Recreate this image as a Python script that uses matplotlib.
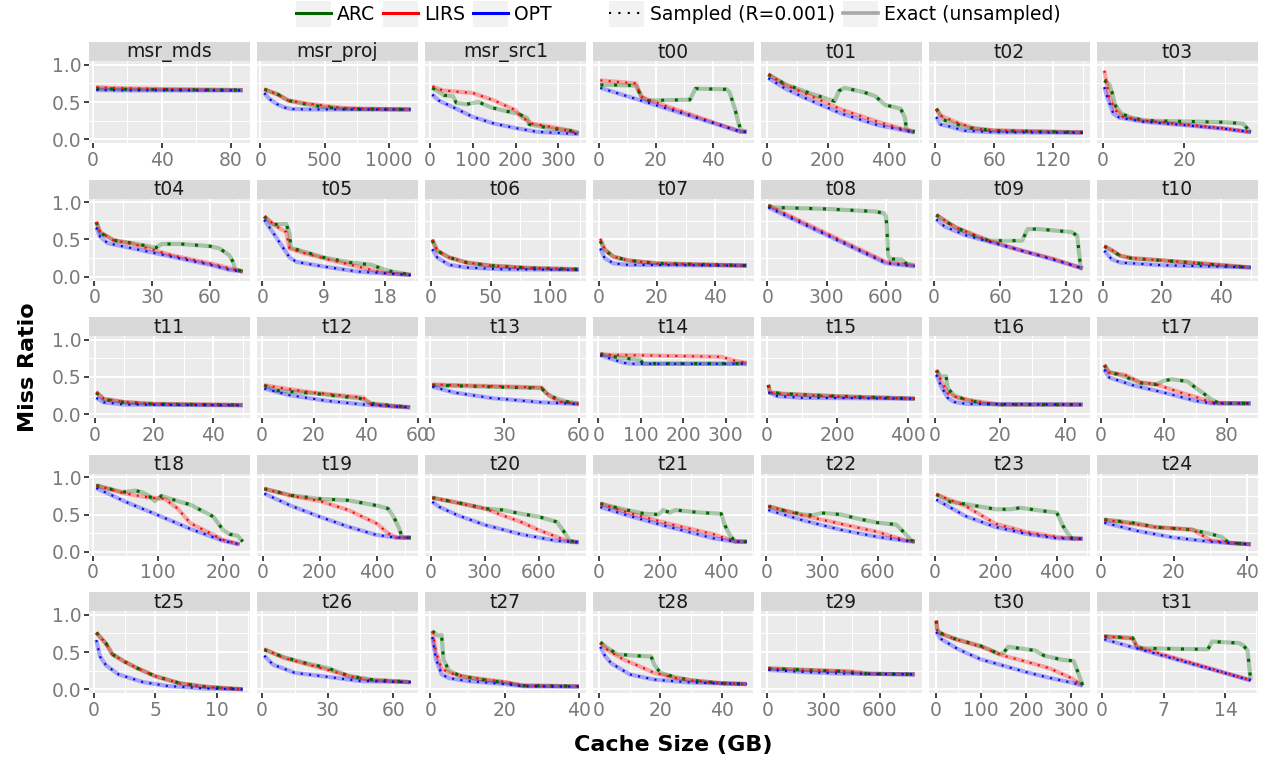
import matplotlib
matplotlib.use("Agg")
import matplotlib.pyplot as plt
from matplotlib.lines import Line2D
from matplotlib.patches import Rectangle
from matplotlib.legend_handler import HandlerLine2D

# ── Data ─────────────────────────────────────────────────────────────────────

PANELS = ["msr_mds", "msr_proj", "msr_src1", "t00", "t01", "t02", "t03",
          "t04", "t05", "t06", "t07", "t08", "t09", "t10",
          "t11", "t12", "t13", "t14", "t15", "t16", "t17",
          "t18", "t19", "t20", "t21", "t22", "t23", "t24",
          "t25", "t26", "t27", "t28", "t29", "t30", "t31"]

XTICKS = {
    "msr_mds": [0, 40, 80], "msr_proj": [0, 500, 1000], "msr_src1": [0, 100, 200, 300],
    "t00": [0, 20, 40], "t01": [0, 200, 400], "t02": [0, 60, 120], "t03": [0, 20],
    "t04": [0, 30, 60], "t05": [0, 9, 18], "t06": [0, 50, 100], "t07": [0, 20, 40],
    "t08": [0, 300, 600], "t09": [0, 60, 120], "t10": [0, 20, 40],
    "t11": [0, 20, 40], "t12": [0, 20, 40, 60], "t13": [0, 30, 60], "t14": [0, 100, 200, 300],
    "t15": [0, 200, 400], "t16": [0, 20, 40], "t17": [0, 40, 80],
    "t18": [0, 100, 200], "t19": [0, 200, 400], "t20": [0, 300, 600], "t21": [0, 200, 400],
    "t22": [0, 300, 600], "t23": [0, 200, 400], "t24": [0, 20, 40],
    "t25": [0, 5, 10], "t26": [0, 30, 60], "t27": [0, 20, 40], "t28": [0, 20, 40],
    "t29": [0, 300, 600], "t30": [0, 100, 200, 300], "t31": [0, 7, 14],
}

ARC = {
    "msr_mds": ([2, 20, 50, 87], [0.68, 0.67, 0.665, 0.66]),
    "msr_proj": ([30, 137, 217, 324, 500, 646, 800, 1170], [0.67, 0.60, 0.52, 0.48, 0.43, 0.41, 0.405, 0.40]),
    "msr_src1": ([5, 33, 53, 61, 85, 113, 144, 176, 208, 228, 232, 260, 291, 323, 348],
                 [0.69, 0.59, 0.58, 0.49, 0.47, 0.50, 0.425, 0.38, 0.34, 0.28, 0.20, 0.17, 0.137, 0.124, 0.09]),
    "t00": ([0.5, 3, 13, 15, 17, 32, 34, 45, 46, 48, 49, 50, 52],
            [0.73, 0.73, 0.72, 0.57, 0.52, 0.53, 0.68, 0.67, 0.63, 0.39, 0.235, 0.12, 0.10]),
    "t01": ([5, 60, 133, 222, 237, 255, 319, 355, 389, 439, 453, 458, 485],
            [0.87, 0.74, 0.63, 0.51, 0.65, 0.69, 0.63, 0.58, 0.46, 0.41, 0.29, 0.13, 0.10]),
    "t02": ([1, 8, 20, 33, 49, 60, 150], [0.41, 0.26, 0.21, 0.155, 0.13, 0.115, 0.093]),
    "t03": ([0.3, 1.5, 2.2, 3, 4.5, 7, 10, 14, 20, 30, 34.5, 36.4],
            [0.79, 0.74, 0.63, 0.455, 0.345, 0.29, 0.255, 0.245, 0.24, 0.228, 0.21, 0.093]),
    "t04": ([1, 3, 10, 20, 32, 35, 45, 60, 65, 70, 72, 73, 77],
            [0.735, 0.59, 0.49, 0.45, 0.39, 0.44, 0.44, 0.41, 0.38, 0.29, 0.20, 0.106, 0.07]),
    "t05": ([0.3, 1.5, 3.5, 4, 4.2, 6, 9, 13, 16, 18.5, 21.8],
            [0.81, 0.70, 0.71, 0.58, 0.39, 0.34, 0.26, 0.19, 0.16, 0.08, 0.027]),
    "t06": ([1, 5, 15, 30, 50, 80, 124], [0.49, 0.35, 0.26, 0.19, 0.15, 0.12, 0.10]),
    "t07": ([0.5, 2, 5, 10, 20, 51], [0.48, 0.36, 0.27, 0.22, 0.18, 0.15]),
    "t08": ([5, 30, 300, 550, 590, 600, 605, 610, 620, 680, 700, 745],
            [0.955, 0.93, 0.91, 0.875, 0.85, 0.81, 0.64, 0.29, 0.24, 0.23, 0.18, 0.155]),
    "t09": ([2, 10, 20, 40, 50, 80, 85, 95, 125, 130, 132, 133, 135],
            [0.83, 0.745, 0.66, 0.53, 0.485, 0.485, 0.64, 0.64, 0.60, 0.55, 0.285, 0.125, 0.11]),
    "t10": ([0.5, 3, 6, 10, 20, 40, 50], [0.41, 0.35, 0.28, 0.245, 0.22, 0.155, 0.125]),
    "t11": ([0.5, 3, 10, 20, 50], [0.29, 0.20, 0.16, 0.137, 0.124]),
    "t12": ([1, 5, 20, 38, 42, 57], [0.39, 0.32, 0.28, 0.21, 0.146, 0.093]),
    "t13": ([1, 45, 47, 50, 55, 60], [0.39, 0.35, 0.28, 0.225, 0.17, 0.146]),
    "t14": ([5, 40, 100, 105, 349], [0.81, 0.77, 0.725, 0.68, 0.68]),
    "t15": ([5, 10, 50, 200, 420], [0.395, 0.295, 0.275, 0.243, 0.21]),
    "t16": ([0.5, 2, 3.5, 4, 6, 10, 15, 20, 45.5],
            [0.59, 0.505, 0.51, 0.35, 0.25, 0.19, 0.146, 0.13, 0.13]),
    "t17": ([2, 5, 15, 25, 35, 40, 45, 55, 60, 65, 70, 75, 95],
            [0.66, 0.57, 0.505, 0.42, 0.40, 0.45, 0.47, 0.44, 0.355, 0.28, 0.20, 0.146, 0.146]),
    "t18": ([5, 25, 45, 65, 75, 85, 95, 105, 130, 150, 185, 200, 210, 222, 230],
            [0.89, 0.845, 0.80, 0.82, 0.80, 0.757, 0.68, 0.75, 0.68, 0.63, 0.47, 0.29, 0.235, 0.217, 0.137]),
    "t19": ([5, 100, 200, 300, 400, 440, 460, 480, 490, 520],
            [0.845, 0.757, 0.71, 0.69, 0.62, 0.58, 0.47, 0.31, 0.19, 0.19]),
    "t20": ([10, 150, 300, 400, 500, 600, 700, 740, 770, 820],
            [0.725, 0.66, 0.58, 0.56, 0.51, 0.47, 0.40, 0.265, 0.146, 0.128]),
    "t21": ([5, 50, 92, 150, 195, 210, 232, 250, 330, 400, 410, 430, 445, 483],
            [0.646, 0.60, 0.56, 0.51, 0.50, 0.56, 0.525, 0.56, 0.525, 0.51, 0.37, 0.21, 0.14, 0.135]),
    "t22": ([10, 100, 200, 250, 300, 400, 500, 600, 700, 750, 780, 800],
            [0.61, 0.55, 0.50, 0.49, 0.52, 0.50, 0.44, 0.39, 0.365, 0.24, 0.155, 0.135]),
    "t23": ([5, 50, 100, 150, 200, 250, 280, 350, 400, 420, 435, 450, 485],
            [0.77, 0.67, 0.64, 0.605, 0.57, 0.57, 0.59, 0.55, 0.525, 0.35, 0.25, 0.18, 0.175]),
    "t24": ([1, 5, 10, 15, 25, 30, 33, 35, 41], [0.43, 0.41, 0.38, 0.33, 0.295, 0.24, 0.20, 0.12, 0.10]),
    "t25": ([0.2, 1, 1.5, 2.5, 3.5, 5, 7, 9, 12.1], [0.76, 0.61, 0.47, 0.37, 0.285, 0.175, 0.08, 0.035, 0.0]),
    "t26": ([1, 10, 20, 30, 40, 50, 68], [0.53, 0.43, 0.35, 0.285, 0.175, 0.13, 0.096]),
    "t27": ([0.5, 2, 3, 3.5, 5, 8, 15, 20, 25, 40], [0.78, 0.72, 0.73, 0.40, 0.25, 0.18, 0.12, 0.09, 0.05, 0.04]),
    "t28": ([0.5, 3, 6, 12, 17, 18, 20, 25, 30, 40, 48],
            [0.63, 0.55, 0.47, 0.45, 0.44, 0.33, 0.22, 0.16, 0.12, 0.08, 0.07]),
    "t29": ([5, 200, 400, 500, 785], [0.28, 0.26, 0.24, 0.21, 0.20]),
    "t30": ([1, 3, 10, 40, 70, 100, 120, 140, 150, 160, 220, 240, 280, 305, 315, 325],
            [0.92, 0.80, 0.755, 0.68, 0.63, 0.58, 0.53, 0.47, 0.49, 0.57, 0.52, 0.45, 0.395, 0.38, 0.22, 0.05]),
    "t31": ([0.3, 3.5, 4, 4.5, 12, 12.5, 15.5, 16, 16.5, 16.85],
            [0.71, 0.69, 0.57, 0.55, 0.535, 0.64, 0.62, 0.59, 0.52, 0.12]),
}

LIRS = {
    "msr_mds": ([2, 10, 40, 87], [0.70, 0.69, 0.675, 0.66]),
    "msr_proj": ([30, 137, 217, 324, 500, 646, 800, 1170], [0.67, 0.60, 0.52, 0.49, 0.45, 0.42, 0.41, 0.40]),
    "msr_src1": ([5, 30, 100, 110, 150, 200, 215, 240, 300, 348],
                 [0.71, 0.655, 0.62, 0.60, 0.52, 0.39, 0.29, 0.21, 0.15, 0.08]),
    "t00": ([0.5, 13, 15, 18, 50, 52], [0.79, 0.75, 0.57, 0.52, 0.10, 0.10]),
    "t01": ([5, 60, 133, 222, 244, 364, 453, 485], [0.87, 0.73, 0.60, 0.44, 0.40, 0.235, 0.13, 0.10]),
    "t02": ([1, 5, 20, 40, 60, 150], [0.41, 0.32, 0.235, 0.146, 0.12, 0.093]),
    "t03": ([0.3, 1.5, 3, 5, 10, 20, 30, 36.4], [0.92, 0.57, 0.39, 0.30, 0.25, 0.20, 0.146, 0.093]),
    "t04": ([1, 3, 10, 20, 40, 60, 70, 77], [0.735, 0.60, 0.49, 0.44, 0.29, 0.18, 0.115, 0.07]),
    "t05": ([0.3, 2, 3.5, 4, 6, 10, 14, 18, 21.8], [0.81, 0.68, 0.60, 0.38, 0.32, 0.225, 0.137, 0.05, 0.027]),
    "t06": ([1, 5, 15, 30, 50, 80, 124], [0.50, 0.35, 0.26, 0.19, 0.15, 0.12, 0.10]),
    "t07": ([0.5, 2, 5, 10, 20, 51], [0.51, 0.37, 0.27, 0.22, 0.18, 0.15]),
    "t08": ([5, 600, 745], [0.955, 0.20, 0.146]),
    "t09": ([2, 20, 50, 80, 110, 130, 135], [0.83, 0.66, 0.485, 0.35, 0.235, 0.135, 0.11]),
    "t10": ([0.5, 3, 6, 10, 20, 40, 50], [0.41, 0.36, 0.28, 0.25, 0.22, 0.16, 0.125]),
    "t11": ([0.5, 3, 10, 20, 50], [0.30, 0.21, 0.165, 0.14, 0.124]),
    "t12": ([1, 10, 20, 39, 42, 50, 57], [0.39, 0.34, 0.29, 0.225, 0.137, 0.106, 0.093]),
    "t13": ([1, 45, 48, 52, 60], [0.40, 0.36, 0.25, 0.17, 0.137]),
    "t14": ([5, 250, 290, 320, 349], [0.80, 0.775, 0.77, 0.72, 0.69]),
    "t15": ([5, 10, 50, 200, 420], [0.39, 0.29, 0.27, 0.24, 0.21]),
    "t16": ([0.5, 2, 4, 7, 12, 20, 45.5], [0.59, 0.45, 0.285, 0.22, 0.18, 0.13, 0.13]),
    "t17": ([2, 5, 15, 25, 35, 50, 65, 70, 95], [0.66, 0.56, 0.53, 0.43, 0.40, 0.295, 0.20, 0.155, 0.146]),
    "t18": ([5, 50, 80, 110, 130, 150, 180, 200, 225], [0.89, 0.78, 0.735, 0.71, 0.58, 0.38, 0.25, 0.16, 0.10]),
    "t19": ([5, 100, 200, 300, 400, 440, 470, 520], [0.845, 0.75, 0.68, 0.56, 0.38, 0.25, 0.19, 0.19]),
    "t20": ([10, 300, 420, 500, 600, 720, 780, 820], [0.725, 0.58, 0.47, 0.40, 0.29, 0.18, 0.128, 0.128]),
    "t21": ([5, 100, 232, 375, 445, 483], [0.646, 0.52, 0.373, 0.234, 0.14, 0.135]),
    "t22": ([10, 200, 400, 600, 750, 800], [0.61, 0.485, 0.375, 0.265, 0.155, 0.135]),
    "t23": ([5, 100, 200, 300, 400, 450, 485], [0.77, 0.615, 0.375, 0.265, 0.20, 0.175, 0.175]),
    "t24": ([1, 15, 25, 30, 35, 41], [0.43, 0.33, 0.30, 0.155, 0.12, 0.10]),
    "t25": ([0.2, 1, 1.5, 2.5, 3.5, 5, 7, 9, 12.1], [0.76, 0.61, 0.47, 0.37, 0.285, 0.175, 0.08, 0.035, 0.0]),
    "t26": ([1, 10, 20, 30, 40, 50, 68], [0.54, 0.42, 0.34, 0.26, 0.175, 0.12, 0.096]),
    "t27": ([0.5, 1.5, 3, 5, 10, 20, 25, 40], [0.78, 0.50, 0.28, 0.22, 0.16, 0.10, 0.05, 0.04]),
    "t28": ([0.5, 3, 8, 12, 18, 25, 30, 40, 48], [0.62, 0.52, 0.40, 0.33, 0.22, 0.15, 0.12, 0.08, 0.07]),
    "t29": ([5, 200, 450, 550, 785], [0.28, 0.26, 0.24, 0.21, 0.20]),
    "t30": ([1, 3, 10, 50, 100, 150, 200, 250, 300, 325], [0.92, 0.79, 0.745, 0.66, 0.57, 0.45, 0.37, 0.285, 0.15, 0.05]),
    "t31": ([0.3, 3.5, 4, 16.85], [0.71, 0.68, 0.57, 0.12]),
}

OPT = {
    "msr_mds": ([2, 20, 87], [0.66, 0.655, 0.655]),
    "msr_proj": ([30, 70, 130, 190, 244, 400, 1170], [0.62, 0.54, 0.47, 0.425, 0.405, 0.40, 0.40]),
    "msr_src1": ([5, 20, 50, 100, 150, 200, 250, 348], [0.60, 0.52, 0.44, 0.30, 0.21, 0.15, 0.10, 0.07]),
    "t00": ([0.5, 50, 52], [0.69, 0.10, 0.10]),
    "t01": ([5, 60, 133, 244, 364, 485], [0.82, 0.68, 0.54, 0.345, 0.19, 0.09]),
    "t02": ([1, 5, 15, 30, 60, 150], [0.30, 0.20, 0.17, 0.115, 0.093, 0.088]),
    "t03": ([0.3, 1, 2.5, 4, 10, 20, 30, 36.4], [0.70, 0.57, 0.345, 0.29, 0.235, 0.19, 0.14, 0.097]),
    "t04": ([1, 3, 7, 20, 40, 60, 70, 77], [0.66, 0.535, 0.45, 0.38, 0.27, 0.16, 0.093, 0.07]),
    "t05": ([0.3, 2, 4, 5, 9, 14, 21.8], [0.765, 0.535, 0.26, 0.20, 0.137, 0.07, 0.022]),
    "t06": ([1, 5, 15, 30, 60, 124], [0.37, 0.26, 0.16, 0.124, 0.10, 0.093]),
    "t07": ([0.5, 2, 5, 10, 51], [0.38, 0.25, 0.18, 0.16, 0.15]),
    "t08": ([5, 600, 745], [0.93, 0.18, 0.14]),
    "t09": ([2, 10, 30, 60, 100, 130, 135], [0.77, 0.67, 0.55, 0.43, 0.265, 0.135, 0.11]),
    "t10": ([0.5, 3, 6, 20, 40, 50], [0.35, 0.235, 0.19, 0.155, 0.135, 0.125]),
    "t11": ([0.5, 3, 10, 50], [0.22, 0.16, 0.13, 0.12]),
    "t12": ([1, 10, 25, 40, 57], [0.345, 0.26, 0.18, 0.128, 0.093]),
    "t13": ([1, 10, 25, 45, 60], [0.37, 0.29, 0.217, 0.16, 0.137]),
    "t14": ([5, 60, 80, 349], [0.79, 0.69, 0.677, 0.677]),
    "t15": ([5, 30, 100, 420], [0.295, 0.243, 0.22, 0.21]),
    "t16": ([0.5, 2, 4, 6, 10, 45.5], [0.53, 0.37, 0.22, 0.165, 0.138, 0.13]),
    "t17": ([2, 5, 20, 40, 60, 70, 95], [0.60, 0.495, 0.39, 0.29, 0.18, 0.146, 0.146]),
    "t18": ([5, 50, 100, 150, 200, 225], [0.855, 0.67, 0.49, 0.305, 0.146, 0.10]),
    "t19": ([5, 100, 200, 300, 400, 470, 520], [0.78, 0.615, 0.47, 0.336, 0.225, 0.19, 0.19]),
    "t20": ([10, 50, 150, 300, 500, 700, 820], [0.67, 0.60, 0.49, 0.36, 0.235, 0.146, 0.128]),
    "t21": ([5, 100, 232, 375, 445, 483], [0.60, 0.48, 0.33, 0.18, 0.135, 0.135]),
    "t22": ([10, 200, 400, 600, 750, 800], [0.56, 0.42, 0.295, 0.20, 0.146, 0.135]),
    "t23": ([5, 100, 200, 300, 400, 485], [0.70, 0.48, 0.33, 0.24, 0.18, 0.175]),
    "t24": ([1, 10, 20, 30, 41], [0.39, 0.28, 0.19, 0.135, 0.10]),
    "t25": ([0.2, 0.5, 1, 2, 4, 6, 9, 12.1], [0.66, 0.44, 0.32, 0.20, 0.096, 0.044, 0.01, 0.0]),
    "t26": ([1, 5, 15, 30, 45, 68], [0.45, 0.33, 0.22, 0.167, 0.11, 0.096]),
    "t27": ([0.5, 1.5, 3, 5, 10, 20, 25, 40], [0.70, 0.40, 0.20, 0.15, 0.11, 0.07, 0.04, 0.035]),
    "t28": ([0.5, 2, 4, 10, 18, 30, 48], [0.57, 0.45, 0.35, 0.20, 0.13, 0.09, 0.07]),
    "t29": ([5, 200, 400, 785], [0.26, 0.23, 0.21, 0.20]),
    "t30": ([1, 10, 50, 100, 150, 200, 250, 300, 325], [0.77, 0.68, 0.535, 0.40, 0.315, 0.23, 0.155, 0.09, 0.05]),
    "t31": ([0.3, 16.85], [0.67, 0.12]),
}

SERIES = [("ARC", ARC, "#006400"), ("LIRS", LIRS, "#FF0000"), ("OPT", OPT, "#0000FF")]

# ── Layout (pixels) ──────────────────────────────────────────────────────────

W, H, DPI = 1262, 763, 100
NCOL = 7
LEFT0, COL_PITCH, PANEL_W = 89, 168, 161
TOP0, ROW_PITCH, PANEL_H, STRIP_H = 61, 137.5, 82, 19
FONT = 13.5
TICK_GREY = "#7A7A7A"

plt.rcParams["font.family"] = ["DejaVu Sans"]


def minor_breaks(ticks, lo, hi):
    step = ticks[1] - ticks[0]
    ext = [ticks[0] - step] + list(ticks) + [ticks[-1] + step]
    mids = [(a + b) / 2 for a, b in zip(ext[:-1], ext[1:])]
    return [m for m in mids if lo <= m <= hi]


class KeyBox(HandlerLine2D):
    """Legend key with a grey ggplot-style background square."""
    def create_artists(self, legend, orig_handle, xdescent, ydescent,
                       width, height, fontsize, trans):
        box = Rectangle((-xdescent, -ydescent - 0.25 * height), width, height * 1.5,
                        facecolor="#F2F2F2", edgecolor="none", transform=trans)
        arts = super().create_artists(legend, orig_handle, xdescent, ydescent,
                                      width, height, fontsize, trans)
        return [box] + list(arts)


fig = plt.figure(figsize=(W / DPI, H / DPI), dpi=DPI, facecolor="white")

for i, name in enumerate(PANELS):
    r, c = divmod(i, NCOL)
    left = LEFT0 + c * COL_PITCH
    top = TOP0 + r * ROW_PITCH
    ax = fig.add_axes([left / W, 1 - (top + PANEL_H) / H, PANEL_W / W, PANEL_H / H])
    ax.set_facecolor("#EBEBEB")
    for s in ax.spines.values():
        s.set_visible(False)

    # free x scale: data range + 5% each side
    xs = [x for _, d, _ in SERIES for x in d[name][0]]
    lo, hi = min(xs), max(xs)
    pad = 0.05 * (hi - lo)
    ax.set_xlim(lo - pad, hi + pad)
    ax.set_ylim(-0.05, 1.05)

    ticks = XTICKS[name]
    ax.set_xticks(ticks)
    ax.set_xticklabels([str(t) for t in ticks])
    ax.set_xticks(minor_breaks(ticks, lo - pad, hi + pad), minor=True)
    ax.set_yticks([0, 0.5, 1.0])
    ax.set_yticklabels(["0.0", "0.5", "1.0"])
    ax.set_yticks([0.25, 0.75], minor=True)
    ax.grid(which="major", color="white", lw=1.4)
    ax.grid(which="minor", color="white", lw=0.7)
    ax.set_axisbelow(True)

    ax.tick_params(which="major", length=3.5, width=1.3, color="#333333",
                   labelsize=FONT, labelcolor=TICK_GREY, pad=2)
    ax.tick_params(which="minor", length=0)
    if c != 0:
        ax.tick_params(axis="y", left=False, labelleft=False)

    # exact (unsampled): wide translucent lines
    for _, d, col in SERIES:
        x, y = d[name]
        ax.plot(x, y, color=col, lw=3.0, alpha=0.3, solid_capstyle="butt",
                solid_joinstyle="round", zorder=2)
    # sampled: dotted lines on top
    for label, d, col in SERIES:
        x, y = d[name]
        if label == "ARC":
            ax.plot(x, y, color=col, lw=2.2, linestyle=(0, (1, 3.5)), zorder=3)
        else:
            ax.plot(x, y, color=col, lw=1.5, linestyle=(0, (1, 3)), zorder=4)

    # facet strip
    sax = fig.add_axes([left / W, 1 - top / H, PANEL_W / W, STRIP_H / H])
    sax.set_facecolor("#D9D9D9")
    sax.set_xticks([]); sax.set_yticks([])
    for s in sax.spines.values():
        s.set_visible(False)
    sax.text(0.5, 0.45, name, ha="center", va="center", fontsize=FONT,
             color="#1A1A1A", transform=sax.transAxes)

# axis titles
fig.text(28 / W, 1 - 367 / H, "Miss Ratio", rotation=90, ha="center", va="center",
         fontsize=16, fontweight="bold")
fig.text(673 / W, 1 - 745 / H, "Cache Size (GB)", ha="center", va="center",
         fontsize=16, fontweight="bold")

# legends
fs_px = FONT * DPI / 72
common = dict(frameon=False, fontsize=FONT, handlelength=35 / fs_px, handleheight=19 / fs_px,
              handletextpad=6 / fs_px, columnspacing=8 / fs_px, borderpad=0,
              borderaxespad=0, handler_map={Line2D: KeyBox()})
h_algo = [Line2D([], [], color=col, lw=2.2) for _, _, col in SERIES]
fig.legend(h_algo, [lab for lab, _, _ in SERIES], loc="center left",
           bbox_to_anchor=(296 / W, 1 - 15 / H), ncol=3, **common)
h_kind = [Line2D([], [], color="black", lw=1.5, linestyle=(0, (1, 3.5))),
          Line2D([], [], color="#A8A8A8", lw=2.6)]
fig.legend(h_kind, ["Sampled (R=0.001)", "Exact (unsampled)"], loc="center left",
           bbox_to_anchor=(609 / W, 1 - 15 / H), ncol=2, **common)

fig.savefig("out.png", dpi=DPI, facecolor=fig.get_facecolor())
